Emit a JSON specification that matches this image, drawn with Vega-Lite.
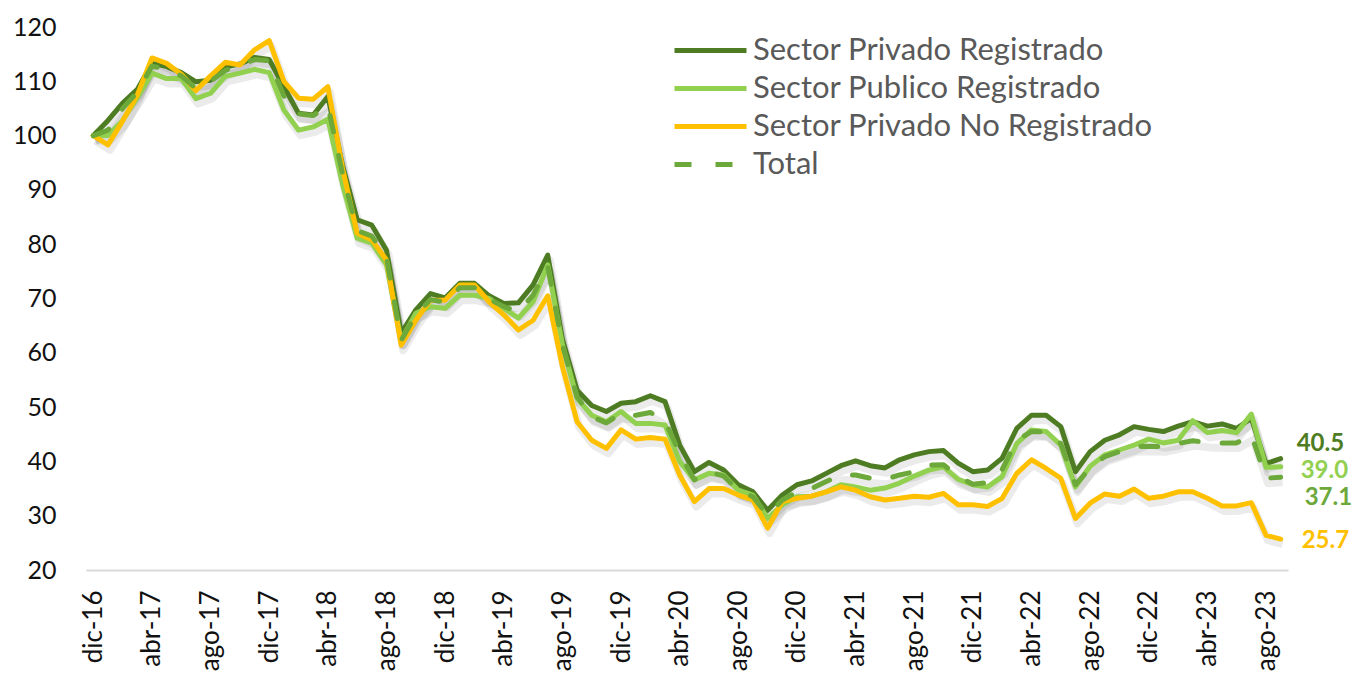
{
  "$schema": "https://vega.github.io/schema/vega-lite/v6.json",
  "width": 1202,
  "height": 543,
  "autosize": {"type": "none"},
  "padding": {"left": 86, "top": 27, "right": 75, "bottom": 110},
  "background": "white",
  "config": {"view": {"stroke": null}, "font": "Lato"},
  "data": {"values": [
    {"mes":"dic-16","PR":100,"PU":100,"NR":100,"T":100},
    {"mes":"ene-17","PR":102.8,"PU":100,"NR":98.3,"T":101},
    {"mes":"feb-17","PR":106,"PU":102.8,"NR":102.7,"T":105},
    {"mes":"mar-17","PR":108.5,"PU":107,"NR":107.5,"T":108},
    {"mes":"abr-17","PR":113.3,"PU":111.5,"NR":114.3,"T":112.8},
    {"mes":"may-17","PR":112.7,"PU":110.5,"NR":113.3,"T":112.2},
    {"mes":"jun-17","PR":111.6,"PU":110.5,"NR":111.3,"T":111},
    {"mes":"jul-17","PR":109.9,"PU":106.8,"NR":108.3,"T":108.7},
    {"mes":"ago-17","PR":110.2,"PU":107.8,"NR":111,"T":110},
    {"mes":"sep-17","PR":112.6,"PU":110.9,"NR":113.5,"T":112},
    {"mes":"oct-17","PR":113.2,"PU":111.5,"NR":113,"T":113},
    {"mes":"nov-17","PR":114.4,"PU":112.2,"NR":115.8,"T":114},
    {"mes":"dic-17","PR":114,"PU":111.6,"NR":117.5,"T":113.8},
    {"mes":"ene-18","PR":109,"PU":104.7,"NR":110,"T":107.3},
    {"mes":"feb-18","PR":104.1,"PU":101,"NR":106.9,"T":104},
    {"mes":"mar-18","PR":103.8,"PU":101.6,"NR":106.7,"T":103.7},
    {"mes":"abr-18","PR":107.2,"PU":103,"NR":109,"T":105.5},
    {"mes":"may-18","PR":94.5,"PU":91,"NR":94,"T":93},
    {"mes":"jun-18","PR":84.5,"PU":81.1,"NR":82,"T":82.5},
    {"mes":"jul-18","PR":83.5,"PU":80.2,"NR":80.8,"T":81.5},
    {"mes":"ago-18","PR":78.9,"PU":76.2,"NR":77.1,"T":77.5},
    {"mes":"sep-18","PR":63.6,"PU":62.3,"NR":61.4,"T":62.3},
    {"mes":"oct-18","PR":67.9,"PU":67.3,"NR":66,"T":67},
    {"mes":"nov-18","PR":70.9,"PU":68.5,"NR":69.7,"T":69.8},
    {"mes":"dic-18","PR":70.1,"PU":68.2,"NR":69.7,"T":69.3},
    {"mes":"ene-19","PR":72.8,"PU":70.6,"NR":72.5,"T":72},
    {"mes":"feb-19","PR":72.8,"PU":70.6,"NR":72.5,"T":72},
    {"mes":"mar-19","PR":70.5,"PU":70,"NR":69.4,"T":69.9},
    {"mes":"abr-19","PR":69.1,"PU":68.2,"NR":67,"T":68.5},
    {"mes":"may-19","PR":69.2,"PU":66.4,"NR":64.2,"T":67.6},
    {"mes":"jun-19","PR":72.5,"PU":69.4,"NR":66,"T":70.6},
    {"mes":"jul-19","PR":78,"PU":76.2,"NR":70.5,"T":75.9},
    {"mes":"ago-19","PR":62.5,"PU":61.5,"NR":57.5,"T":61.5},
    {"mes":"sep-19","PR":53.1,"PU":51.6,"NR":47.3,"T":51.9},
    {"mes":"oct-19","PR":50.3,"PU":48.5,"NR":43.9,"T":48.2},
    {"mes":"nov-19","PR":49.2,"PU":47.3,"NR":42.4,"T":47.1},
    {"mes":"dic-19","PR":50.7,"PU":49.2,"NR":45.8,"T":48.8},
    {"mes":"ene-20","PR":51,"PU":47,"NR":44.1,"T":48.5},
    {"mes":"feb-20","PR":52.1,"PU":47,"NR":44.4,"T":49},
    {"mes":"mar-20","PR":51,"PU":46.7,"NR":44.1,"T":47.5},
    {"mes":"abr-20","PR":43,"PU":40,"NR":37.5,"T":41.5},
    {"mes":"may-20","PR":38.1,"PU":36.6,"NR":32.6,"T":36.6},
    {"mes":"jun-20","PR":39.8,"PU":37.8,"NR":35,"T":38.1},
    {"mes":"jul-20","PR":38.4,"PU":37.5,"NR":35,"T":37.3},
    {"mes":"ago-20","PR":35.7,"PU":34.7,"NR":33.8,"T":34.6},
    {"mes":"sep-20","PR":34.4,"PU":33.8,"NR":32.9,"T":33.5},
    {"mes":"oct-20","PR":31,"PU":29.5,"NR":27.7,"T":30.1},
    {"mes":"nov-20","PR":33.8,"PU":32,"NR":32.6,"T":32.9},
    {"mes":"dic-20","PR":35.7,"PU":33.5,"NR":33.2,"T":34.4},
    {"mes":"ene-21","PR":36.4,"PU":33.6,"NR":33.6,"T":35},
    {"mes":"feb-21","PR":37.8,"PU":34.4,"NR":34.4,"T":36.3},
    {"mes":"mar-21","PR":39.2,"PU":35.7,"NR":35.3,"T":37.5},
    {"mes":"abr-21","PR":40.1,"PU":35.3,"NR":34.7,"T":37.5},
    {"mes":"may-21","PR":39.2,"PU":34.7,"NR":33.5,"T":36.9},
    {"mes":"jun-21","PR":38.8,"PU":35.1,"NR":32.9,"T":36.7},
    {"mes":"jul-21","PR":40.3,"PU":36,"NR":33.2,"T":37.5},
    {"mes":"ago-21","PR":41.2,"PU":37.3,"NR":33.6,"T":38.1},
    {"mes":"sep-21","PR":41.8,"PU":38.4,"NR":33.4,"T":39.3},
    {"mes":"oct-21","PR":42,"PU":39,"NR":34.1,"T":39.4},
    {"mes":"nov-21","PR":39.7,"PU":36.7,"NR":32,"T":37.2},
    {"mes":"dic-21","PR":38.1,"PU":35.7,"NR":32,"T":35.8},
    {"mes":"ene-22","PR":38.4,"PU":35.3,"NR":31.7,"T":36.1},
    {"mes":"feb-22","PR":40.6,"PU":37.2,"NR":33.2,"T":38.5},
    {"mes":"mar-22","PR":46.1,"PU":43.3,"NR":37.8,"T":43.9},
    {"mes":"abr-22","PR":48.5,"PU":45.8,"NR":40.3,"T":45.5},
    {"mes":"may-22","PR":48.5,"PU":45.5,"NR":38.7,"T":45.4},
    {"mes":"jun-22","PR":46.4,"PU":43,"NR":36.9,"T":43.3},
    {"mes":"jul-22","PR":38.1,"PU":35.3,"NR":29.5,"T":35.7},
    {"mes":"ago-22","PR":41.8,"PU":39.1,"NR":32.3,"T":38.8},
    {"mes":"sep-22","PR":43.9,"PU":41.2,"NR":34,"T":40.9},
    {"mes":"oct-22","PR":44.9,"PU":42.1,"NR":33.6,"T":41.8},
    {"mes":"nov-22","PR":46.4,"PU":43,"NR":34.9,"T":42.7},
    {"mes":"dic-22","PR":45.9,"PU":44.1,"NR":33.2,"T":42.8},
    {"mes":"ene-23","PR":45.5,"PU":43.4,"NR":33.6,"T":42.7},
    {"mes":"feb-23","PR":46.5,"PU":43.9,"NR":34.4,"T":43.3},
    {"mes":"mar-23","PR":47.3,"PU":47.5,"NR":34.4,"T":43.8},
    {"mes":"abr-23","PR":46.5,"PU":45.3,"NR":33.2,"T":43.5},
    {"mes":"may-23","PR":46.9,"PU":45.7,"NR":31.8,"T":43.4},
    {"mes":"jun-23","PR":46.1,"PU":45.3,"NR":31.8,"T":43.4},
    {"mes":"jul-23","PR":47.9,"PU":48.7,"NR":32.4,"T":44.9},
    {"mes":"ago-23","PR":39.6,"PU":38.9,"NR":26.4,"T":36.9},
    {"mes":"sep-23","PR":40.5,"PU":39.0,"NR":25.7,"T":37.1}
  ]},
  "transform": [{"fold": ["PR", "PU", "NR", "T"], "as": ["serie", "v"]}],
  "encoding": {
    "x": {
      "field": "mes", "type": "ordinal",
      "scale": {"type": "point", "padding": 0.5, "domain": ["dic-16","ene-17","feb-17","mar-17","abr-17","may-17","jun-17","jul-17","ago-17","sep-17","oct-17","nov-17","dic-17","ene-18","feb-18","mar-18","abr-18","may-18","jun-18","jul-18","ago-18","sep-18","oct-18","nov-18","dic-18","ene-19","feb-19","mar-19","abr-19","may-19","jun-19","jul-19","ago-19","sep-19","oct-19","nov-19","dic-19","ene-20","feb-20","mar-20","abr-20","may-20","jun-20","jul-20","ago-20","sep-20","oct-20","nov-20","dic-20","ene-21","feb-21","mar-21","abr-21","may-21","jun-21","jul-21","ago-21","sep-21","oct-21","nov-21","dic-21","ene-22","feb-22","mar-22","abr-22","may-22","jun-22","jul-22","ago-22","sep-22","oct-22","nov-22","dic-22","ene-23","feb-23","mar-23","abr-23","may-23","jun-23","jul-23","ago-23","sep-23"]},
      "axis": {
        "title": null, "labelAngle": -90, "labelFontSize": 26, "labelColor": "#111111",
        "ticks": false, "grid": false, "domainColor": "#D9D9D9", "domainWidth": 2, "labelPadding": 20,
        "values": ["dic-16","abr-17","ago-17","dic-17","abr-18","ago-18","dic-18","abr-19","ago-19","dic-19","abr-20","ago-20","dic-20","abr-21","ago-21","dic-21","abr-22","ago-22","dic-22","abr-23","ago-23"]
      }
    },
    "y": {
      "field": "v", "type": "quantitative",
      "scale": {"domain": [20, 120], "nice": false, "zero": false},
      "axis": {"title": null, "domain": false, "ticks": false, "grid": false, "labelFontSize": 25, "labelColor": "#111111", "labelPadding": 30, "values": [20,30,40,50,60,70,80,90,100,110,120]}
    }
  },
  "layer": [
    {
      "mark": {"type": "line", "stroke": "#000000", "opacity": 0.08, "strokeWidth": 8, "yOffset": 5, "xOffset": 2, "strokeJoin": "round"},
      "encoding": {"detail": {"field": "serie"}}
    },
    {
      "transform": [{"filter": "datum.serie === 'PR'"}],
      "mark": {"type": "line", "strokeWidth": 5, "strokeJoin": "round", "strokeCap": "round"},
      "encoding": {
        "color": {"field": "serie", "type": "nominal", "scale": {"domain": ["PR","PU","NR","T"], "range": ["#4E7C22","#92D050","#FFC000","#6CA83A"]},
          "legend": {"title": null, "orient": "none", "legendX": 609, "legendY": 8, "rowPadding": 6, "symbolType": "M-3.6,0H3.6", "symbolSize": 400, "symbolStrokeWidth": 5, "labelFontSize": 31, "labelLimit": 600, "labelColor": "#595959", "labelOffset": 27, "labelExpr": "{'PR':'Sector Privado Registrado','PU':'Sector Publico Registrado','NR':'Sector Privado No Registrado','T':'Total'}[datum.label]"}}
      }
    },
    {
      "transform": [{"filter": "datum.serie === 'PU'"}],
      "mark": {"type": "line", "strokeWidth": 5, "strokeJoin": "round", "strokeCap": "round"},
      "encoding": {"color": {"field": "serie", "type": "nominal"}}
    },
    {
      "transform": [{"filter": "datum.serie === 'NR'"}],
      "mark": {"type": "line", "strokeWidth": 5, "strokeJoin": "round", "strokeCap": "round"},
      "encoding": {"color": {"field": "serie", "type": "nominal"}}
    },
    {
      "transform": [{"filter": "datum.serie === 'T'"}],
      "mark": {"type": "line", "strokeWidth": 5, "strokeJoin": "round", "strokeCap": "round"},
      "encoding": {
        "color": {"field": "serie", "type": "nominal"},
        "strokeDash": {"field": "serie", "type": "nominal", "scale": {"domain": ["PR","PU","NR","T"], "range": [[1,0],[1,0],[1,0],[17,24]]},
          "legend": {"title": null, "orient": "none", "legendX": 609, "legendY": 8, "rowPadding": 6, "symbolType": "M-3.6,0H3.6", "symbolSize": 400, "symbolStrokeWidth": 5, "labelFontSize": 31, "labelLimit": 600, "labelColor": "#595959", "labelOffset": 27, "labelExpr": "{'PR':'Sector Privado Registrado','PU':'Sector Publico Registrado','NR':'Sector Privado No Registrado','T':'Total'}[datum.label]"}}
      }
    },
    {
      "transform": [{"filter": "datum.serie === 'PR' && datum.mes === 'sep-23'"}],
      "mark": {"type": "text", "align": "left", "baseline": "middle", "dx": 16, "dy": -15, "fontSize": 24, "fontWeight": "bold", "color": "#4E7C22"},
      "encoding": {"text": {"field": "v", "type": "quantitative", "format": ".1f"}}
    },
    {
      "transform": [{"filter": "datum.serie === 'PU' && datum.mes === 'sep-23'"}],
      "mark": {"type": "text", "align": "left", "baseline": "middle", "dx": 20, "dy": 4, "fontSize": 24, "fontWeight": "bold", "color": "#92D050"},
      "encoding": {"text": {"field": "v", "type": "quantitative", "format": ".1f"}}
    },
    {
      "transform": [{"filter": "datum.serie === 'T' && datum.mes === 'sep-23'"}],
      "mark": {"type": "text", "align": "left", "baseline": "middle", "dx": 24, "dy": 21, "fontSize": 24, "fontWeight": "bold", "color": "#6CA83A"},
      "encoding": {"text": {"field": "v", "type": "quantitative", "format": ".1f"}}
    },
    {
      "transform": [{"filter": "datum.serie === 'NR' && datum.mes === 'sep-23'"}],
      "mark": {"type": "text", "align": "left", "baseline": "middle", "dx": 21, "dy": 2, "fontSize": 24, "fontWeight": "bold", "color": "#FFC000"},
      "encoding": {"text": {"field": "v", "type": "quantitative", "format": ".1f"}}
    }
  ]
}
